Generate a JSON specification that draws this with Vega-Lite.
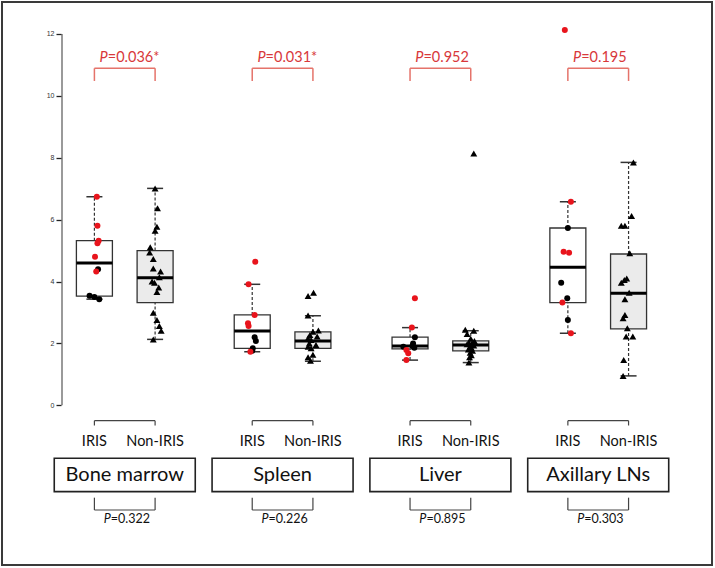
{
  "$schema": "https://vega.github.io/schema/vega-lite/v6.json",
  "width": 651,
  "height": 563,
  "autosize": "none",
  "padding": {"left": 61, "top": 2, "right": 3, "bottom": 3},
  "background": "white",
  "config": {
    "view": {"stroke": null},
    "text": {"font": "Lato"}
  },
  "datasets": {
    "frame": [{"left": -0.5222, "right": 11.1746, "top": 13.034, "bottom": -5.162, "axisx": 0.4662, "from": 0, "to": 12}],
    "box": [
      {"organ": "Bone marrow", "group": "IRIS", "pos": 1, "lo": 3.43, "q1": 3.53, "med": 4.6, "q3": 5.32, "hi": 6.74},
      {"organ": "Bone marrow", "group": "Non-IRIS", "pos": 2, "lo": 2.13, "q1": 3.32, "med": 4.12, "q3": 5.0, "hi": 7.01},
      {"organ": "Spleen", "group": "IRIS", "pos": 3.6, "lo": 1.73, "q1": 1.84, "med": 2.4, "q3": 2.92, "hi": 3.91},
      {"organ": "Spleen", "group": "Non-IRIS", "pos": 4.6, "lo": 1.42, "q1": 1.84, "med": 2.08, "q3": 2.37, "hi": 2.89},
      {"organ": "Liver", "group": "IRIS", "pos": 6.2, "lo": 1.46, "q1": 1.82, "med": 1.92, "q3": 2.2, "hi": 2.51},
      {"organ": "Liver", "group": "Non-IRIS", "pos": 7.2, "lo": 1.38, "q1": 1.76, "med": 1.95, "q3": 2.08, "hi": 2.41},
      {"organ": "Axillary LNs", "group": "IRIS", "pos": 8.8, "lo": 2.33, "q1": 3.32, "med": 4.46, "q3": 5.73, "hi": 6.58},
      {"organ": "Axillary LNs", "group": "Non-IRIS", "pos": 9.8, "lo": 0.95, "q1": 2.47, "med": 3.62, "q3": 4.89, "hi": 7.85}
    ],
    "org": [
      {"organ": "Bone marrow", "iris": 1, "non": 2, "mid": 1.5, "ptop": "=0.036*", "pbot": "=0.322"},
      {"organ": "Spleen", "iris": 3.6, "non": 4.6, "mid": 4.1, "ptop": "=0.031*", "pbot": "=0.226"},
      {"organ": "Liver", "iris": 6.2, "non": 7.2, "mid": 6.7, "ptop": "=0.952", "pbot": "=0.895"},
      {"organ": "Axillary LNs", "iris": 8.8, "non": 9.8, "mid": 9.3, "ptop": "=0.195", "pbot": "=0.303"}
    ],
    "pts": [
      {"organ": "Bone marrow", "group": "IRIS", "x": 1.04, "v": 6.74, "marked": "yes"},
      {"organ": "Bone marrow", "group": "IRIS", "x": 1.05, "v": 5.8, "marked": "yes"},
      {"organ": "Bone marrow", "group": "IRIS", "x": 1.07, "v": 5.32, "marked": "yes"},
      {"organ": "Bone marrow", "group": "IRIS", "x": 1.05, "v": 5.24, "marked": "yes"},
      {"organ": "Bone marrow", "group": "IRIS", "x": 1.01, "v": 4.8, "marked": "yes"},
      {"organ": "Bone marrow", "group": "IRIS", "x": 1.06, "v": 4.4, "marked": "no"},
      {"organ": "Bone marrow", "group": "IRIS", "x": 1.03, "v": 4.32, "marked": "yes"},
      {"organ": "Bone marrow", "group": "IRIS", "x": 0.92, "v": 3.54, "marked": "no"},
      {"organ": "Bone marrow", "group": "IRIS", "x": 1.0, "v": 3.5, "marked": "no"},
      {"organ": "Bone marrow", "group": "IRIS", "x": 1.08, "v": 3.43, "marked": "no"},
      {"organ": "Bone marrow", "group": "Non-IRIS", "x": 2.0, "v": 7.01, "marked": "no"},
      {"organ": "Bone marrow", "group": "Non-IRIS", "x": 2.04, "v": 6.37, "marked": "no"},
      {"organ": "Bone marrow", "group": "Non-IRIS", "x": 2.03, "v": 5.77, "marked": "no"},
      {"organ": "Bone marrow", "group": "Non-IRIS", "x": 2.0, "v": 5.64, "marked": "no"},
      {"organ": "Bone marrow", "group": "Non-IRIS", "x": 1.92, "v": 5.11, "marked": "no"},
      {"organ": "Bone marrow", "group": "Non-IRIS", "x": 1.91, "v": 4.94, "marked": "no"},
      {"organ": "Bone marrow", "group": "Non-IRIS", "x": 1.97, "v": 4.73, "marked": "no"},
      {"organ": "Bone marrow", "group": "Non-IRIS", "x": 1.97, "v": 4.42, "marked": "no"},
      {"organ": "Bone marrow", "group": "Non-IRIS", "x": 2.09, "v": 4.32, "marked": "no"},
      {"organ": "Bone marrow", "group": "Non-IRIS", "x": 2.07, "v": 4.14, "marked": "no"},
      {"organ": "Bone marrow", "group": "Non-IRIS", "x": 1.95, "v": 4.0, "marked": "no"},
      {"organ": "Bone marrow", "group": "Non-IRIS", "x": 1.99, "v": 3.96, "marked": "no"},
      {"organ": "Bone marrow", "group": "Non-IRIS", "x": 2.06, "v": 3.81, "marked": "no"},
      {"organ": "Bone marrow", "group": "Non-IRIS", "x": 2.03, "v": 3.66, "marked": "no"},
      {"organ": "Bone marrow", "group": "Non-IRIS", "x": 1.97, "v": 2.99, "marked": "no"},
      {"organ": "Bone marrow", "group": "Non-IRIS", "x": 2.03, "v": 2.76, "marked": "no"},
      {"organ": "Bone marrow", "group": "Non-IRIS", "x": 2.07, "v": 2.56, "marked": "no"},
      {"organ": "Bone marrow", "group": "Non-IRIS", "x": 2.1, "v": 2.41, "marked": "no"},
      {"organ": "Bone marrow", "group": "Non-IRIS", "x": 1.97, "v": 2.13, "marked": "no"},
      {"organ": "Spleen", "group": "IRIS", "x": 3.65, "v": 4.64, "marked": "yes"},
      {"organ": "Spleen", "group": "IRIS", "x": 3.54, "v": 3.91, "marked": "yes"},
      {"organ": "Spleen", "group": "IRIS", "x": 3.64, "v": 2.92, "marked": "yes"},
      {"organ": "Spleen", "group": "IRIS", "x": 3.53, "v": 2.65, "marked": "yes"},
      {"organ": "Spleen", "group": "IRIS", "x": 3.54, "v": 2.56, "marked": "yes"},
      {"organ": "Spleen", "group": "IRIS", "x": 3.64, "v": 2.2, "marked": "no"},
      {"organ": "Spleen", "group": "IRIS", "x": 3.66, "v": 2.08, "marked": "no"},
      {"organ": "Spleen", "group": "IRIS", "x": 3.61, "v": 1.84, "marked": "no"},
      {"organ": "Spleen", "group": "IRIS", "x": 3.6, "v": 1.76, "marked": "no"},
      {"organ": "Spleen", "group": "IRIS", "x": 3.57, "v": 1.73, "marked": "yes"},
      {"organ": "Spleen", "group": "Non-IRIS", "x": 4.61, "v": 3.64, "marked": "no"},
      {"organ": "Spleen", "group": "Non-IRIS", "x": 4.52, "v": 3.53, "marked": "no"},
      {"organ": "Spleen", "group": "Non-IRIS", "x": 4.52, "v": 2.9, "marked": "no"},
      {"organ": "Spleen", "group": "Non-IRIS", "x": 4.69, "v": 2.42, "marked": "no"},
      {"organ": "Spleen", "group": "Non-IRIS", "x": 4.6, "v": 2.38, "marked": "no"},
      {"organ": "Spleen", "group": "Non-IRIS", "x": 4.55, "v": 2.27, "marked": "no"},
      {"organ": "Spleen", "group": "Non-IRIS", "x": 4.67, "v": 2.22, "marked": "no"},
      {"organ": "Spleen", "group": "Non-IRIS", "x": 4.52, "v": 2.17, "marked": "no"},
      {"organ": "Spleen", "group": "Non-IRIS", "x": 4.57, "v": 2.11, "marked": "no"},
      {"organ": "Spleen", "group": "Non-IRIS", "x": 4.54, "v": 2.0, "marked": "no"},
      {"organ": "Spleen", "group": "Non-IRIS", "x": 4.65, "v": 1.95, "marked": "no"},
      {"organ": "Spleen", "group": "Non-IRIS", "x": 4.52, "v": 1.89, "marked": "no"},
      {"organ": "Spleen", "group": "Non-IRIS", "x": 4.57, "v": 1.84, "marked": "no"},
      {"organ": "Spleen", "group": "Non-IRIS", "x": 4.6, "v": 1.63, "marked": "no"},
      {"organ": "Spleen", "group": "Non-IRIS", "x": 4.52, "v": 1.55, "marked": "no"},
      {"organ": "Spleen", "group": "Non-IRIS", "x": 4.56, "v": 1.44, "marked": "no"},
      {"organ": "Liver", "group": "IRIS", "x": 6.28, "v": 3.46, "marked": "yes"},
      {"organ": "Liver", "group": "IRIS", "x": 6.23, "v": 2.51, "marked": "yes"},
      {"organ": "Liver", "group": "IRIS", "x": 6.28, "v": 2.2, "marked": "no"},
      {"organ": "Liver", "group": "IRIS", "x": 6.25, "v": 2.0, "marked": "no"},
      {"organ": "Liver", "group": "IRIS", "x": 6.24, "v": 1.92, "marked": "no"},
      {"organ": "Liver", "group": "IRIS", "x": 6.27, "v": 1.86, "marked": "no"},
      {"organ": "Liver", "group": "IRIS", "x": 6.09, "v": 1.89, "marked": "no"},
      {"organ": "Liver", "group": "IRIS", "x": 6.14, "v": 1.79, "marked": "yes"},
      {"organ": "Liver", "group": "IRIS", "x": 6.17, "v": 1.68, "marked": "yes"},
      {"organ": "Liver", "group": "IRIS", "x": 6.14, "v": 1.46, "marked": "yes"},
      {"organ": "Liver", "group": "Non-IRIS", "x": 7.25, "v": 8.14, "marked": "no"},
      {"organ": "Liver", "group": "Non-IRIS", "x": 7.11, "v": 2.44, "marked": "no"},
      {"organ": "Liver", "group": "Non-IRIS", "x": 7.25, "v": 2.41, "marked": "no"},
      {"organ": "Liver", "group": "Non-IRIS", "x": 7.14, "v": 2.3, "marked": "no"},
      {"organ": "Liver", "group": "Non-IRIS", "x": 7.2, "v": 2.15, "marked": "no"},
      {"organ": "Liver", "group": "Non-IRIS", "x": 7.26, "v": 2.08, "marked": "no"},
      {"organ": "Liver", "group": "Non-IRIS", "x": 7.17, "v": 2.03, "marked": "no"},
      {"organ": "Liver", "group": "Non-IRIS", "x": 7.22, "v": 2.0, "marked": "no"},
      {"organ": "Liver", "group": "Non-IRIS", "x": 7.14, "v": 1.97, "marked": "no"},
      {"organ": "Liver", "group": "Non-IRIS", "x": 7.25, "v": 1.93, "marked": "no"},
      {"organ": "Liver", "group": "Non-IRIS", "x": 7.19, "v": 1.9, "marked": "no"},
      {"organ": "Liver", "group": "Non-IRIS", "x": 7.21, "v": 1.86, "marked": "no"},
      {"organ": "Liver", "group": "Non-IRIS", "x": 7.16, "v": 1.8, "marked": "no"},
      {"organ": "Liver", "group": "Non-IRIS", "x": 7.23, "v": 1.76, "marked": "no"},
      {"organ": "Liver", "group": "Non-IRIS", "x": 7.19, "v": 1.7, "marked": "no"},
      {"organ": "Liver", "group": "Non-IRIS", "x": 7.21, "v": 1.62, "marked": "no"},
      {"organ": "Liver", "group": "Non-IRIS", "x": 7.18, "v": 1.55, "marked": "no"},
      {"organ": "Liver", "group": "Non-IRIS", "x": 7.17, "v": 1.38, "marked": "no"},
      {"organ": "Axillary LNs", "group": "IRIS", "x": 8.75, "v": 12.13, "marked": "yes"},
      {"organ": "Axillary LNs", "group": "IRIS", "x": 8.85, "v": 6.58, "marked": "yes"},
      {"organ": "Axillary LNs", "group": "IRIS", "x": 8.8, "v": 5.73, "marked": "no"},
      {"organ": "Axillary LNs", "group": "IRIS", "x": 8.73, "v": 4.96, "marked": "yes"},
      {"organ": "Axillary LNs", "group": "IRIS", "x": 8.82, "v": 4.93, "marked": "yes"},
      {"organ": "Axillary LNs", "group": "IRIS", "x": 8.69, "v": 3.96, "marked": "no"},
      {"organ": "Axillary LNs", "group": "IRIS", "x": 8.79, "v": 3.46, "marked": "no"},
      {"organ": "Axillary LNs", "group": "IRIS", "x": 8.71, "v": 3.32, "marked": "yes"},
      {"organ": "Axillary LNs", "group": "IRIS", "x": 8.8, "v": 2.76, "marked": "no"},
      {"organ": "Axillary LNs", "group": "IRIS", "x": 8.85, "v": 2.33, "marked": "yes"},
      {"organ": "Axillary LNs", "group": "Non-IRIS", "x": 9.88, "v": 7.85, "marked": "no"},
      {"organ": "Axillary LNs", "group": "Non-IRIS", "x": 9.85, "v": 6.12, "marked": "no"},
      {"organ": "Axillary LNs", "group": "Non-IRIS", "x": 9.68, "v": 5.8, "marked": "no"},
      {"organ": "Axillary LNs", "group": "Non-IRIS", "x": 9.74, "v": 5.8, "marked": "no"},
      {"organ": "Axillary LNs", "group": "Non-IRIS", "x": 9.82, "v": 4.91, "marked": "no"},
      {"organ": "Axillary LNs", "group": "Non-IRIS", "x": 9.77, "v": 4.1, "marked": "no"},
      {"organ": "Axillary LNs", "group": "Non-IRIS", "x": 9.73, "v": 4.05, "marked": "no"},
      {"organ": "Axillary LNs", "group": "Non-IRIS", "x": 9.68, "v": 3.96, "marked": "no"},
      {"organ": "Axillary LNs", "group": "Non-IRIS", "x": 9.81, "v": 3.64, "marked": "no"},
      {"organ": "Axillary LNs", "group": "Non-IRIS", "x": 9.74, "v": 3.43, "marked": "no"},
      {"organ": "Axillary LNs", "group": "Non-IRIS", "x": 9.74, "v": 2.92, "marked": "no"},
      {"organ": "Axillary LNs", "group": "Non-IRIS", "x": 9.71, "v": 2.81, "marked": "no"},
      {"organ": "Axillary LNs", "group": "Non-IRIS", "x": 9.78, "v": 2.49, "marked": "no"},
      {"organ": "Axillary LNs", "group": "Non-IRIS", "x": 9.76, "v": 2.22, "marked": "no"},
      {"organ": "Axillary LNs", "group": "Non-IRIS", "x": 9.87, "v": 2.22, "marked": "no"},
      {"organ": "Axillary LNs", "group": "Non-IRIS", "x": 9.72, "v": 1.46, "marked": "no"},
      {"organ": "Axillary LNs", "group": "Non-IRIS", "x": 9.71, "v": 0.95, "marked": "no"}
    ]
  },
  "layer": [
    {
      "data": {"name": "frame"},
      "mark": {"type": "rect", "filled": false, "stroke": "#3a3a3a", "strokeWidth": 2},
      "encoding": {
        "x": {"field": "left", "type": "quantitative", "scale": {"domain": [0.4497, 11.1746], "nice": false, "zero": false, "padding": 0}, "axis": null},
        "x2": {"field": "right"},
        "y": {"field": "top", "type": "quantitative", "title": null, "scale": {"domain": [-5.162, 13.034], "nice": false, "zero": false, "padding": 0},
          "axis": {"values": [0, 2, 4, 6, 8, 10, 12], "domain": false, "grid": false, "ticks": true, "title": null, "tickSize": 5, "tickColor": "#222", "tickWidth": 1.3, "tickOpacity": 1, "labelFontSize": 7, "labelColor": "#333", "labelPadding": 2, "labelFont": "Liberation Sans", "zindex": 3}},
        "y2": {"field": "bottom"}
      }
    },
    {
      "data": {"name": "frame"},
      "mark": {"type": "bar", "width": 2, "color": "#9a9a9a", "opacity": 1},
      "encoding": {
        "x": {"field": "axisx", "type": "quantitative", "axis": null},
        "y": {"field": "from", "type": "quantitative", "title": null},
        "y2": {"field": "to"}
      }
    },
    {
      "data": {"name": "box"},
      "mark": {"type": "rule", "color": "#333", "strokeWidth": 1.2, "strokeDash": [3, 2]},
      "encoding": {
        "x": {"field": "pos", "type": "quantitative", "axis": null},
        "y": {"field": "q3", "type": "quantitative", "title": null},
        "y2": {"field": "hi"}
      }
    },
    {
      "data": {"name": "box"},
      "mark": {"type": "rule", "color": "#333", "strokeWidth": 1.2, "strokeDash": [3, 2]},
      "encoding": {
        "x": {"field": "pos", "type": "quantitative", "axis": null},
        "y": {"field": "lo", "type": "quantitative", "title": null},
        "y2": {"field": "q1"}
      }
    },
    {
      "data": {"name": "box"},
      "mark": {"type": "tick", "orient": "horizontal", "color": "#333", "size": 16, "thickness": 1.5, "opacity": 1},
      "encoding": {
        "x": {"field": "pos", "type": "quantitative", "axis": null},
        "y": {"field": "hi", "type": "quantitative", "title": null}
      }
    },
    {
      "data": {"name": "box"},
      "mark": {"type": "tick", "orient": "horizontal", "color": "#333", "size": 16, "thickness": 1.5, "opacity": 1},
      "encoding": {
        "x": {"field": "pos", "type": "quantitative", "axis": null},
        "y": {"field": "lo", "type": "quantitative", "title": null}
      }
    },
    {
      "data": {"name": "box"},
      "mark": {"type": "bar", "width": 36, "stroke": "#333", "strokeWidth": 1.3},
      "encoding": {
        "x": {"field": "pos", "type": "quantitative", "axis": null},
        "y": {"field": "q1", "type": "quantitative", "title": null},
        "y2": {"field": "q3"},
        "fill": {"field": "group", "type": "nominal", "scale": {"domain": ["IRIS", "Non-IRIS"], "range": ["#ffffff", "#ebebeb"]}, "legend": null}
      }
    },
    {
      "data": {"name": "box"},
      "mark": {"type": "tick", "orient": "horizontal", "color": "#000", "size": 36, "thickness": 3, "opacity": 1},
      "encoding": {
        "x": {"field": "pos", "type": "quantitative", "axis": null},
        "y": {"field": "med", "type": "quantitative", "title": null}
      }
    },
    {
      "data": {"name": "pts"},
      "mark": {"type": "point", "filled": true, "opacity": 1},
      "encoding": {
        "x": {"field": "x", "type": "quantitative", "axis": null},
        "y": {"field": "v", "type": "quantitative", "title": null},
        "shape": {"field": "group", "type": "nominal", "scale": {"domain": ["IRIS", "Non-IRIS"], "range": ["circle", "triangle-up"]}, "legend": null},
        "size": {"field": "group", "type": "nominal", "scale": {"domain": ["IRIS", "Non-IRIS"], "range": [36, 48]}, "legend": null},
        "color": {"field": "marked", "type": "nominal", "scale": {"domain": ["yes", "no"], "range": ["#e8141c", "#000000"]}, "legend": null}
      }
    },
    {
      "data": {"name": "org"},
      "mark": {"type": "rule", "color": "#e5736a", "strokeWidth": 1.5},
      "encoding": {
        "x": {"field": "iris", "type": "quantitative", "axis": null},
        "x2": {"field": "non"},
        "y": {"datum": 10.892, "type": "quantitative", "title": null}
      }
    },
    {
      "data": {"name": "box"},
      "mark": {"type": "rule", "color": "#e5736a", "strokeWidth": 1.5},
      "encoding": {
        "x": {"field": "pos", "type": "quantitative", "axis": null},
        "y": {"datum": 10.482, "type": "quantitative", "title": null},
        "y2": {"datum": 10.892}
      }
    },
    {
      "data": {"name": "org"},
      "mark": {"type": "text", "text": "P", "fontStyle": "italic", "align": "right", "baseline": "middle", "dx": -17, "fontSize": 14.5, "color": "#d8383a"},
      "encoding": {
        "x": {"field": "mid", "type": "quantitative", "axis": null},
        "y": {"datum": 11.225, "type": "quantitative", "title": null}
      }
    },
    {
      "data": {"name": "org"},
      "mark": {"type": "text", "align": "left", "baseline": "middle", "dx": -17, "fontSize": 14.5, "color": "#d8383a"},
      "encoding": {
        "x": {"field": "mid", "type": "quantitative", "axis": null},
        "y": {"datum": 11.225, "type": "quantitative", "title": null},
        "text": {"field": "ptop"}
      }
    },
    {
      "data": {"name": "org"},
      "mark": {"type": "rule", "color": "#444", "strokeWidth": 1.2},
      "encoding": {
        "x": {"field": "iris", "type": "quantitative", "axis": null},
        "x2": {"field": "non"},
        "y": {"datum": -0.498, "type": "quantitative", "title": null}
      }
    },
    {
      "data": {"name": "box"},
      "mark": {"type": "rule", "color": "#444", "strokeWidth": 1.2},
      "encoding": {
        "x": {"field": "pos", "type": "quantitative", "axis": null},
        "y": {"datum": -0.498, "type": "quantitative", "title": null},
        "y2": {"datum": -0.653}
      }
    },
    {
      "data": {"name": "box"},
      "mark": {"type": "text", "align": "center", "baseline": "middle", "fontSize": 14.5, "color": "#111"},
      "encoding": {
        "x": {"field": "pos", "type": "quantitative", "axis": null},
        "y": {"datum": -1.186, "type": "quantitative", "title": null},
        "text": {"field": "group"}
      }
    },
    {
      "data": {"name": "org"},
      "mark": {"type": "bar", "width": 141, "fill": "#ffffff", "stroke": "#222", "strokeWidth": 1.6},
      "encoding": {
        "x": {"field": "mid", "type": "quantitative", "axis": null},
        "y": {"datum": -1.713, "type": "quantitative", "title": null},
        "y2": {"datum": -2.792}
      }
    },
    {
      "data": {"name": "org"},
      "mark": {"type": "text", "align": "center", "baseline": "middle", "fontSize": 20, "color": "#111"},
      "encoding": {
        "x": {"field": "mid", "type": "quantitative", "axis": null},
        "y": {"datum": -2.253, "type": "quantitative", "title": null},
        "text": {"field": "organ"}
      }
    },
    {
      "data": {"name": "org"},
      "mark": {"type": "rule", "color": "#444", "strokeWidth": 1.2},
      "encoding": {
        "x": {"field": "iris", "type": "quantitative", "axis": null},
        "x2": {"field": "non"},
        "y": {"datum": -3.384, "type": "quantitative", "title": null}
      }
    },
    {
      "data": {"name": "box"},
      "mark": {"type": "rule", "color": "#444", "strokeWidth": 1.2},
      "encoding": {
        "x": {"field": "pos", "type": "quantitative", "axis": null},
        "y": {"datum": -2.986, "type": "quantitative", "title": null},
        "y2": {"datum": -3.384}
      }
    },
    {
      "data": {"name": "org"},
      "mark": {"type": "text", "text": "P", "fontStyle": "italic", "align": "right", "baseline": "middle", "dx": -14, "fontSize": 12.5, "color": "#111"},
      "encoding": {
        "x": {"field": "mid", "type": "quantitative", "axis": null},
        "y": {"datum": -3.685, "type": "quantitative", "title": null}
      }
    },
    {
      "data": {"name": "org"},
      "mark": {"type": "text", "align": "left", "baseline": "middle", "dx": -14, "fontSize": 12.5, "color": "#111"},
      "encoding": {
        "x": {"field": "mid", "type": "quantitative", "axis": null},
        "y": {"datum": -3.685, "type": "quantitative", "title": null},
        "text": {"field": "pbot"}
      }
    }
  ]
}
